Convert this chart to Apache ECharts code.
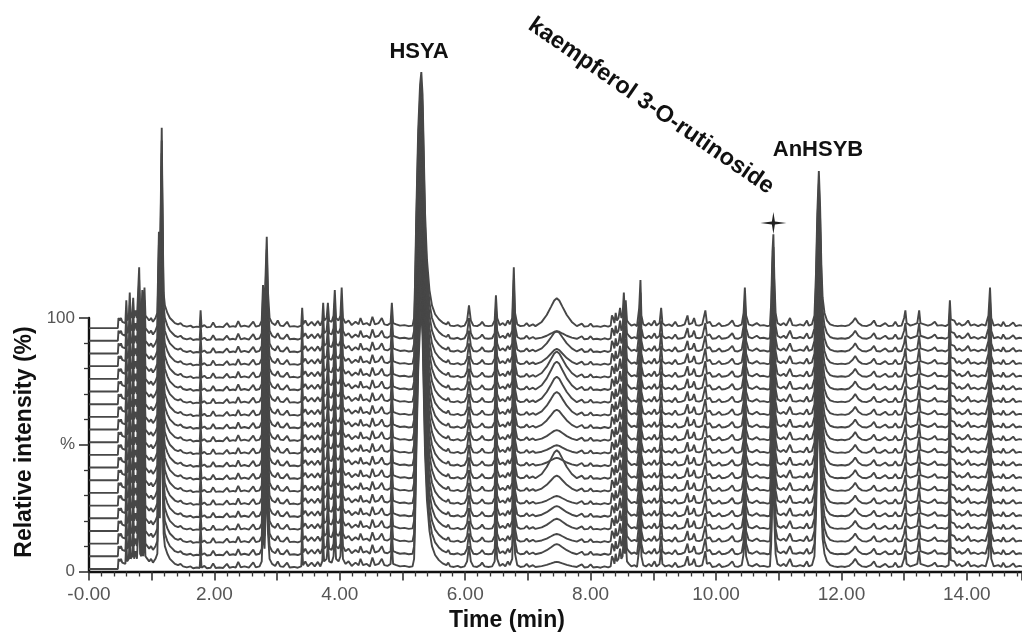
<!DOCTYPE html>
<html>
<head>
<meta charset="utf-8">
<script src="https://cdn.jsdelivr.net/npm/echarts@6/dist/echarts.min.js"></script>
<style>html,body{margin:0;padding:0;background:#fff}#c{width:1022px;height:637px}</style>
</head>
<body>
<div id="c"></div>
<script>
// Retention-time profile shared by all traces: [time (min), intensity above trace baseline (%)]
const profileBefore = [
[0.00,0],[0.46,0],[0.47,4],[0.49,3],[0.51,4],[0.53,2.5],[0.56,3],[0.58,2],
[0.595,11],[0.61,3],[0.635,4],[0.65,14],[0.665,4],[0.69,5],[0.705,12],[0.72,4],[0.745,7],[0.765,4],
[0.80,24],[0.815,6],[0.835,5],[0.85,15],[0.865,5],[0.885,16],[0.90,5],[0.93,4],[0.96,3],[0.99,4],
[1.02,2.5],[1.06,4],[1.09,6],[1.115,38],[1.13,20],[1.16,79],[1.175,40],[1.19,14],[1.21,9],[1.25,6],
[1.29,4],[1.33,3],[1.37,2],[1.42,1.5],[1.46,2],[1.50,1],[1.56,0.6],[1.62,1],[1.66,0.3],[1.72,0.6],
[1.765,0.4],[1.78,7],[1.795,0.5],[1.84,1.2],[1.88,0.3],[1.94,0.5],[1.98,2.2],[2.02,0.4],[2.08,0.6],
[2.14,0.4],[2.20,2],[2.24,0.5],[2.30,0.8],[2.34,0.5],[2.38,2.8],[2.42,0.6],[2.48,1],[2.55,0.5],
[2.62,2.6],[2.66,0.6],[2.72,1],[2.755,3],[2.775,17],[2.80,8],[2.835,36],[2.855,14],[2.88,4],[2.92,2],
[2.97,1.2],[3.01,3],[3.05,1],[3.10,0.8],[3.16,2.5],[3.20,0.6],[3.27,0.8],[3.33,0.5],[3.385,1],[3.40,8],
[3.415,1.5],[3.45,3],[3.49,1],[3.55,2.5],[3.60,1],[3.65,2.8],[3.69,1],[3.72,3],[3.735,10],[3.75,3],
[3.79,4],[3.81,10],[3.83,3],[3.87,2.5],[3.90,5],[3.92,15],[3.94,4],[3.98,3],[4.01,5],[4.03,16],[4.05,4],
[4.09,2],[4.14,3],[4.19,1.2],[4.25,2.5],[4.30,1.5],[4.33,4],[4.37,1.5],[4.43,2],[4.48,1],[4.52,4.5],
[4.56,1.5],[4.62,2],[4.67,4],[4.71,1.5],[4.76,1.2],[4.81,2],[4.83,10],[4.85,2],[4.90,1.5],[4.96,1],
[5.03,1.2],[5.10,0.8],[5.16,1],
[5.185,4],[5.20,18],[5.22,45],[5.25,78],[5.28,96],[5.30,101],[5.32,92],[5.34,68],[5.36,45],[5.39,27],
[5.43,15],[5.47,9],[5.52,5.5],[5.58,3.5],[5.64,2.2],[5.70,1.5],[5.73,2.5],[5.76,1],[5.82,0.8],[5.88,1.2],
[5.93,0.6],[5.99,1],[6.03,3],[6.06,9],[6.09,3],[6.13,1],[6.19,0.8],[6.24,1.5],[6.27,2.5],[6.31,1],
[6.37,0.8],[6.43,1],[6.47,3],[6.49,13],[6.51,4],[6.55,1.2],[6.60,2],[6.64,1],[6.68,3],[6.71,1.5],
[6.75,4],[6.775,24],[6.795,6],[6.83,1.5],[6.88,0.8],[6.94,1],[6.98,2],[7.02,0.8],[7.08,1.5],[7.12,0.8]
];
// Broad band near 7.45 min: [time, fraction of that trace's band height]
const humpShape = [
[7.15,0],[7.22,0.15],[7.30,0.4],[7.37,0.7],[7.42,0.92],[7.46,1],[7.50,0.92],[7.55,0.7],[7.62,0.4],[7.70,0.15],[7.78,0]
];
const humpBase = 0.8;
const profileAfter = [
[7.80,0.8],[7.86,1.8],[7.90,0.6],[7.96,0.8],[8.00,1.8],[8.04,0.6],[8.10,0.8],[8.16,0.5],[8.22,1],[8.28,0.6],
[8.32,1],[8.34,5],[8.36,4],[8.38,2],[8.40,6],[8.42,3],[8.445,4],[8.47,8],[8.49,4],[8.51,5],[8.53,14],
[8.545,6],[8.56,11],[8.58,3],[8.61,2],[8.65,1],[8.70,1.5],[8.74,0.8],[8.775,8],[8.795,19],[8.81,5],
[8.84,1.5],[8.88,1],[8.93,2],[8.97,1],[9.02,3],[9.05,1],[9.10,2],[9.125,8],[9.145,2],[9.19,1],[9.25,1.5],
[9.30,0.8],[9.35,2.5],[9.39,0.8],[9.45,1],[9.50,1.5],[9.545,5],[9.57,1.5],[9.62,2],[9.65,4],[9.68,1.2],
[9.73,1],[9.78,1.5],[9.83,7],[9.855,2],[9.90,2.5],[9.94,0.8],[10.00,1],[10.05,2],[10.09,0.8],[10.15,1],
[10.20,1.5],[10.26,3],[10.30,1],[10.35,0.8],[10.41,1.5],[10.44,6],[10.46,16],[10.48,5],[10.52,1.5],
[10.58,1],[10.65,2],[10.70,1],[10.76,1.2],[10.82,0.8],[10.86,1],[10.88,10],[10.90,30],[10.915,37],
[10.93,20],[10.95,6],[10.98,2],[11.03,1.2],[11.08,2],[11.12,1],[11.18,4],[11.22,1.2],[11.28,1],[11.34,1.5],
[11.40,1],[11.45,3],[11.48,1],[11.53,1.5],[11.57,5],[11.595,22],[11.615,45],[11.64,62],[11.66,48],
[11.68,25],[11.70,12],[11.73,6],[11.77,3],[11.82,1.5],[11.88,1],[11.94,0.8],[12.00,1],[12.06,0.8],
[12.12,1.2],[12.18,2.5],[12.22,4],[12.27,2],[12.33,1],[12.40,0.8],[12.47,1.5],[12.52,3],[12.56,1],
[12.62,0.8],[12.70,2],[12.75,0.8],[12.82,1],[12.86,2.5],[12.90,0.8],[12.96,1],[13.00,4],[13.02,7],
[13.04,2],[13.10,1],[13.16,1.5],[13.21,2],[13.24,7],[13.26,2],[13.32,1.5],[13.38,1],[13.44,1.5],
[13.49,2.5],[13.53,1],[13.60,1.2],[13.66,0.8],[13.71,1.5],[13.73,11],[13.745,3.5],[13.80,3],[13.84,1.2],
[13.88,2],[13.92,1],[13.97,1.5],[14.02,3],[14.06,1],[14.12,1.5],[14.18,0.8],[14.24,1.5],[14.30,1],
[14.345,5],[14.37,16],[14.39,4],[14.43,1],[14.50,1.5],[14.55,0.8],[14.58,2.5],[14.62,0.8],[14.68,1],
[14.74,2.2],[14.78,0.8],[14.84,1.2],[14.88,1]
];
// Vertical offsets of the 20 stacked traces (bottom to top, %)
const traceOffsets = [1,6,11,16,21,26,31,36,41,46,51,56,61,66,71,76,81,86,91,96];
// Height of the 7.45 min band in each trace (bottom to top, %)
const humpHeights = [2,4,3,4,4,3,6,11,3,3,4,7,9,10,11,10,6,8,3,11];
const xTicksLabeled = [0,2,4,6,8,10,12,14];
// Star marker above the kaempferol 3-O-rutinoside peak: [time, relative intensity %]
const starPoint = [10.915, 137.5];

const FONT = "'Liberation Sans', Arial, Helvetica, sans-serif";
const series = traceOffsets.map((off, k) => {
  const pts = [];
  profileBefore.forEach(p => pts.push([p[0], off + p[1]]));
  humpShape.forEach(p => pts.push([p[0], off + humpBase + humpHeights[k] * p[1]]));
  profileAfter.forEach(p => pts.push([p[0], off + p[1]]));
  return {
    type: 'line', data: pts, symbol: 'none', showSymbol: false, clip: false, silent: true,
    animation: false, lineStyle: { color: '#474747', width: 1.9 }, z: 2
  };
});

const chart = echarts.init(document.getElementById('c'), null, { renderer: 'canvas' });
const baseGraphics = [
  { type: 'text', x: 419, y: 52, style: { text: 'HSYA', font: "bold 22px " + FONT, fill: '#111', align: 'center', verticalAlign: 'middle' } },
  { type: 'text', x: 818, y: 150, style: { text: 'AnHSYB', font: "bold 22px " + FONT, fill: '#111', align: 'center', verticalAlign: 'middle' } },
  { type: 'text', x: 651, y: 106, rotation: -0.604, style: { text: 'kaempferol 3-O-rutinoside', font: "bold 23.5px " + FONT, fill: '#111', align: 'center', verticalAlign: 'middle' } },
  { type: 'text', x: 25, y: 442, rotation: Math.PI / 2, style: { text: 'Relative intensity (%)', font: "bold 23px " + FONT, fill: '#111', align: 'center', verticalAlign: 'middle' } },
  { type: 'text', x: 507, y: 621, style: { text: 'Time (min)', font: "bold 23px " + FONT, fill: '#111', align: 'center', verticalAlign: 'middle' } }
];
chart.setOption({
  backgroundColor: '#fff',
  animation: false,
  grid: { left: 89, top: 318, width: 933, height: 253.5, containLabel: false },
  xAxis: {
    type: 'value', min: 0, max: 14.88, interval: 1,
    axisLine: { show: true, onZero: false, lineStyle: { color: '#111', width: 2.4 } },
    axisTick: { show: true, length: 9, lineStyle: { color: '#333', width: 1.6 } },
    minorTick: { show: true, splitNumber: 5, length: 5, lineStyle: { color: '#333', width: 1.3 } },
    splitLine: { show: false }, minorSplitLine: { show: false },
    axisLabel: {
      color: '#555', fontSize: 19, fontFamily: FONT, margin: 14, showMaxLabel: false,
      formatter: v => xTicksLabeled.indexOf(v) >= 0 ? (v === 0 ? '-0.00' : v.toFixed(2)) : ''
    }
  },
  yAxis: {
    type: 'value', min: 0, max: 100, interval: 50,
    axisLine: { show: true, onZero: false, lineStyle: { color: '#111', width: 2.4 } },
    axisTick: { show: true, length: 10, lineStyle: { color: '#333', width: 1.6 } },
    minorTick: { show: true, splitNumber: 5, length: 5, lineStyle: { color: '#333', width: 1.3 } },
    splitLine: { show: false }, minorSplitLine: { show: false },
    axisLabel: {
      color: '#555', fontSize: 17, fontFamily: FONT, margin: 14,
      formatter: v => v === 50 ? '%' : String(v)
    }
  },
  series: series,
  graphic: baseGraphics
});
const sp = chart.convertToPixel({ gridIndex: 0 }, starPoint);
chart.setOption({
  graphic: baseGraphics.concat([{
    type: 'polygon', x: sp[0], y: sp[1],
    shape: { points: [[0,-11],[1.5,-1.5],[13,0],[1.5,1.5],[0,11],[-1.5,1.5],[-13,0],[-1.5,-1.5]] },
    style: { fill: '#222' }
  }])
});
</script>
</body>
</html>
